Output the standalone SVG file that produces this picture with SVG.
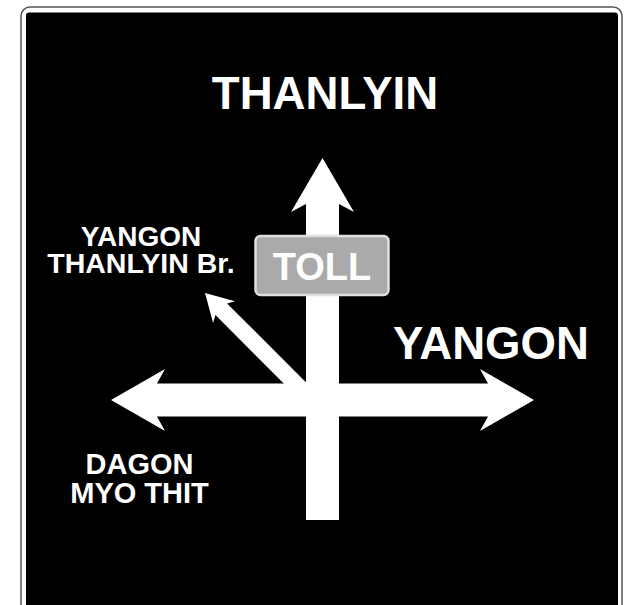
<svg xmlns="http://www.w3.org/2000/svg" width="624" height="605" viewBox="0 0 624 605">
  <style>
    .lbl { font-family: "Liberation Sans", Arial, sans-serif; font-weight: bold; fill: #ffffff; text-anchor: middle; }
    .arrow { fill: #ffffff; stroke: none; }
  </style>
  <rect x="0" y="0" width="624" height="605" fill="#ffffff"/>
  <g id="sign">
    <rect x="21" y="7" width="601" height="620" rx="9" ry="9" fill="#ffffff" stroke="#555555" stroke-width="1.5"/>
    <rect x="26" y="12.5" width="592" height="600" rx="3" ry="3" fill="#000000"/>
  </g>
  <g id="arrows">
    <g id="arrow-diagonal">
      <polygon class="arrow" transform="translate(205 293) rotate(-45) scale(0.5)" points="0,0 31,54 16.5,46 16.5,300 -16.5,300 -16.5,46 -31,54"/>
    </g>
    <g id="arrow-up">
      <polygon class="arrow" points="322.5,158 354,212 339,204 339,520 306,520 306,204 291,212"/>
    </g>
    <g id="arrow-left-right">
      <polygon class="arrow" points="111,400 165,369 157,383.5 488,383.5 480,369 534,400 480,431 488,416.5 157,416.5 165,431"/>
    </g>
  </g>
  <g id="toll">
    <rect x="255.5" y="236" width="133" height="59" rx="5" ry="5" fill="#aaaaaa" stroke="#e0e0e0" stroke-width="2.5"/>
    <text class="lbl" x="322" y="280" font-size="38">TOLL</text>
  </g>
  <g id="label-thanlyin">
    <text class="lbl" x="325" y="109.3" font-size="45.6">THANLYIN</text>
  </g>
  <g id="label-yangon">
    <text class="lbl" x="491" y="359.3" font-size="45.6">YANGON</text>
  </g>
  <g id="label-bridge">
    <text class="lbl" font-size="28"><tspan x="141" y="246">YANGON</tspan><tspan x="141" y="272.7" font-size="28.5">THANLYIN Br.</tspan></text>
  </g>
  <g id="label-dagon">
    <text class="lbl" font-size="29"><tspan x="139.5" y="474">DAGON</tspan><tspan x="139.5" y="502.7">MYO THIT</tspan></text>
  </g>
</svg>
